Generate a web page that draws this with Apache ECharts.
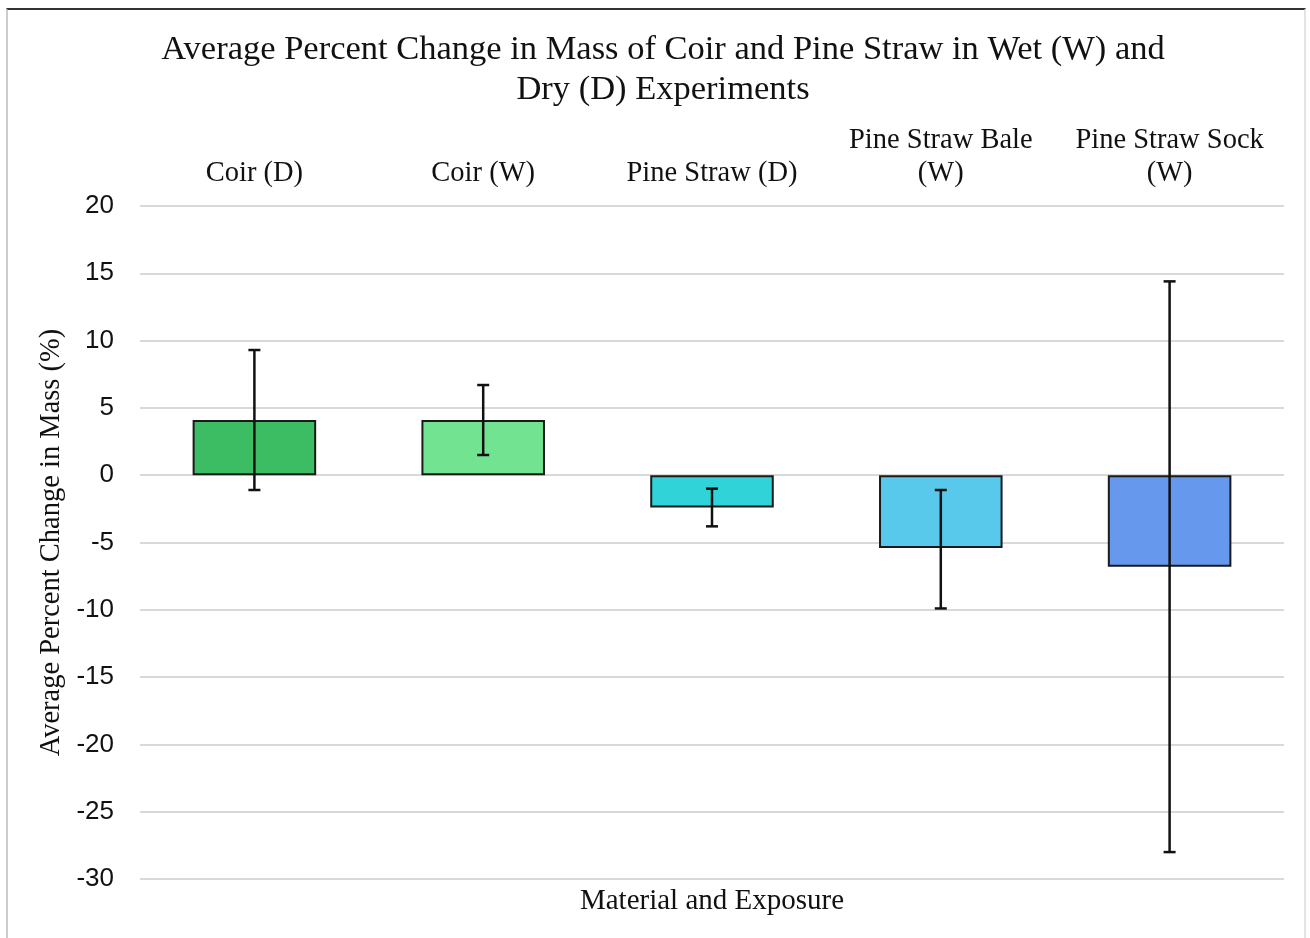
<!DOCTYPE html>
<html><head><meta charset="utf-8">
<script src="https://cdn.jsdelivr.net/npm/echarts@6/dist/echarts.min.js"></script>
<style>
html,body{margin:0;padding:0;background:#fff;}
#frame{position:absolute;left:6px;top:8px;width:1300px;height:940px;border-top:2px solid #333;border-left:2px solid #ccc;border-right:2px solid #e4e4e4;box-sizing:border-box;}
#chart{position:absolute;left:0;top:0;width:1310px;height:938px;}
</style></head>
<body>
<div id="frame"></div>
<div id="chart"></div>
<script>
var categories = ['Coir (D)', 'Coir (W)', 'Pine Straw (D)', 'Pine Straw Bale\n(W)', 'Pine Straw Sock\n(W)'];
var means = [4.1, 4.1, -2.4, -5.4, -6.8];
var errHigh = [9.3, 6.7, -1.0, -1.1, 14.4];
var errLow = [-1.1, 1.5, -3.8, -9.9, -28.0];
var barColors = ['#3dbd63', '#72e491', '#30d3d8', '#58c8eb', '#6699ee'];
var yTicks = {min: -30, max: 20, interval: 5};

var chart = echarts.init(document.getElementById('chart'));
var serif = '"Liberation Serif", "DejaVu Serif", serif';
var option = {
  animation: false,
  title: {
    text: 'Average Percent Change in Mass of Coir and Pine Straw in Wet (W) and\nDry (D) Experiments',
    left: 658, top: 25, textAlign: 'center',
    textStyle: {fontFamily: serif, fontSize: 34.5, fontWeight: 'normal', color: '#111', lineHeight: 40}
  },
  graphic: [{
    type: 'text', x: 712, y: 887,
    style: {text: 'Material and Exposure', font: '29px ' + serif, fill: '#111', textAlign: 'center', textVerticalAlign: 'top'}
  }],
  grid: {left: 140, right: 26, top: 206, bottom: 59},
  xAxis: {
    type: 'category', data: categories, position: 'top',
    axisLine: {show: false}, axisTick: {show: false},
    axisLabel: {fontFamily: serif, fontSize: 28.5, color: '#111', lineHeight: 33, margin: 16, interval: 0}
  },
  yAxis: {
    type: 'value', min: yTicks.min, max: yTicks.max, interval: yTicks.interval,
    name: 'Average Percent Change in Mass (%)', nameLocation: 'middle', nameGap: 71,
    nameTextStyle: {fontFamily: serif, fontSize: 28.5, color: '#111'},
    axisLine: {show: false}, axisTick: {show: false},
    axisLabel: {fontFamily: '"Liberation Sans", Arial, sans-serif', fontSize: 26, color: '#111', margin: 26},
    splitLine: {lineStyle: {color: '#d9d9d9', width: 2}}
  },
  series: [{
    type: 'bar', barWidth: '54%',
    data: means.map(function (v, i) {
      return {value: v, itemStyle: {color: barColors[i]}};
    }),
    itemStyle: {borderColor: '#1a1a1a', borderWidth: 2}
  }, {
    type: 'custom',
    data: categories.map(function (c, i) { return [i, errLow[i], errHigh[i]]; }),
    renderItem: function (params, api) {
      var x = api.value(0);
      var lo = api.coord([x, api.value(1)]);
      var hi = api.coord([x, api.value(2)]);
      var hw = 6;
      var st = {stroke: '#111', lineWidth: 2.5};
      return {type: 'group', children: [
        {type: 'line', shape: {x1: lo[0], y1: lo[1], x2: hi[0], y2: hi[1]}, style: st},
        {type: 'line', shape: {x1: lo[0] - hw, y1: lo[1], x2: lo[0] + hw, y2: lo[1]}, style: st},
        {type: 'line', shape: {x1: hi[0] - hw, y1: hi[1], x2: hi[0] + hw, y2: hi[1]}, style: st}
      ]};
    },
    z: 10
  }]
};
chart.setOption(option);
</script>
</body></html>
